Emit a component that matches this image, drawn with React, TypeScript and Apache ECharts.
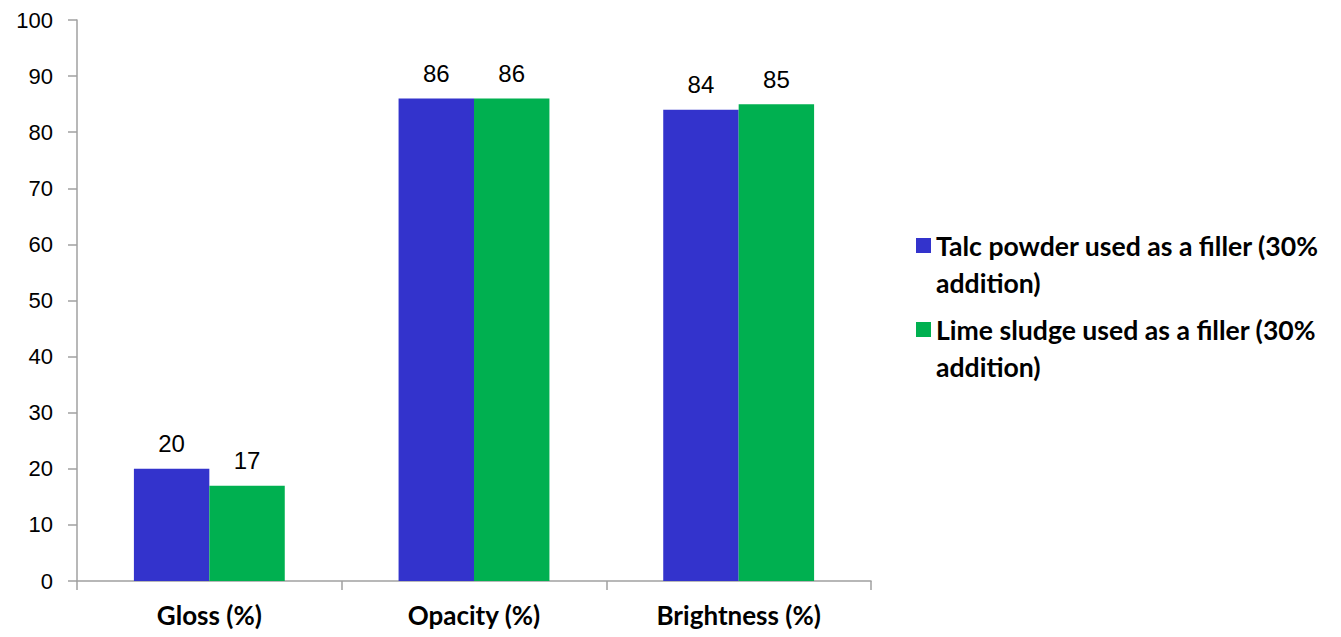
import React, { useEffect, useRef } from "react";
import * as echarts from "echarts";

const categories = ["Gloss (%)", "Opacity (%)", "Brightness (%)"];
const talcValues = [20, 86, 84];
const limeValues = [17, 86, 85];
const seriesNames = [
  "Talc powder used as a filler (30% addition)",
  "Lime sludge used as a filler (30% addition)",
];

export default function App() {
  const ref = useRef<HTMLDivElement>(null);
  useEffect(() => {
    if (!ref.current) return;
    const chart = echarts.init(ref.current, null, { renderer: "svg" });
    const labelStyle = {
      show: true,
      position: "top" as const,
      distance: 13,
      color: "#000",
      fontSize: 24,
      fontFamily: "Liberation Sans, Arial, sans-serif",
    };
    const boldFont = "Lato, 'Open Sans', sans-serif";
    const legendBase = {
      orient: "vertical" as const,
      left: 916,
      padding: 0,
      itemWidth: 15,
      itemHeight: 15,
      icon: "rect",
      // empty first line keeps the icon centred on the first text line
      formatter: (name: string) => "\n" + name.replace(" (30% ", " (30%\n"),
      textStyle: {
        fontSize: 26.6,
        fontWeight: "bold" as const,
        fontFamily: boldFont,
        color: "#000",
        lineHeight: 37,
      },
    };
    chart.setOption({
      animation: false,
      backgroundColor: "#fff",
      grid: { left: 77, right: 470, top: 20, bottom: 56, containLabel: false },
      legend: [
        { ...legendBase, top: 190, data: [seriesNames[0]] },
        { ...legendBase, top: 274, data: [seriesNames[1]] },
      ],
      xAxis: {
        type: "category",
        data: categories,
        axisLine: { lineStyle: { color: "#a0a0a0", width: 1.5 } },
        axisTick: { show: true, length: 9, lineStyle: { color: "#a0a0a0", width: 1.5 } },
        axisLabel: {
          margin: 21,
          fontSize: 26,
          fontWeight: "bold",
          fontFamily: boldFont,
          color: "#000",
        },
      },
      yAxis: {
        type: "value",
        min: 0,
        max: 100,
        interval: 10,
        splitLine: { show: false },
        axisLine: { show: true, lineStyle: { color: "#a0a0a0", width: 1.5 } },
        axisTick: { show: true, length: 9, lineStyle: { color: "#a0a0a0", width: 1.5 } },
        axisLabel: {
          margin: 24,
          fontSize: 22,
          color: "#000",
          fontFamily: "Liberation Sans, Arial, sans-serif",
        },
      },
      series: [
        {
          name: seriesNames[0],
          type: "bar",
          data: talcValues,
          barGap: "0%",
          barCategoryGap: "43%",
          itemStyle: { color: "#3333CC" },
          label: labelStyle,
        },
        {
          name: seriesNames[1],
          type: "bar",
          data: limeValues,
          itemStyle: { color: "#00B050" },
          label: labelStyle,
        },
      ],
    });
    return () => chart.dispose();
  }, []);
  return (
    <div
      ref={ref}
      style={{ position: "fixed", left: 0, top: 0, width: 1341, height: 637 }}
    />
  );
}
